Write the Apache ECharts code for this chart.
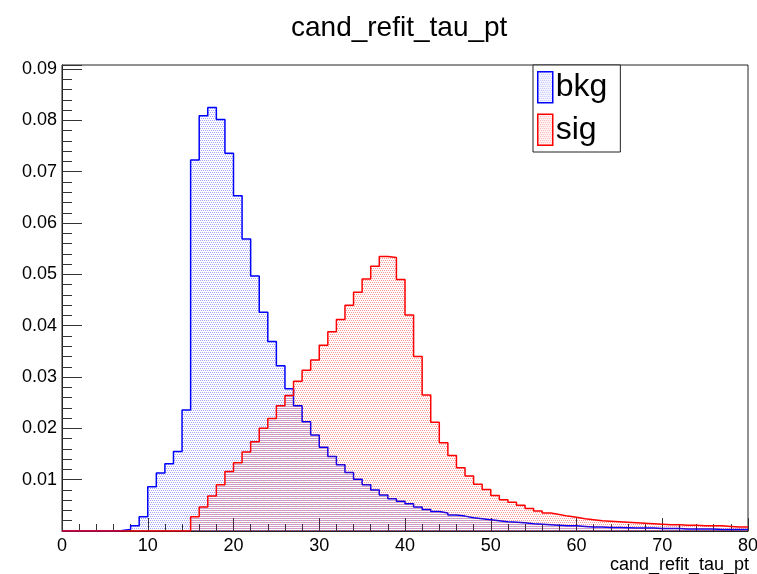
<!DOCTYPE html>
<html>
<head>
<meta charset="utf-8">
<script src="https://cdn.jsdelivr.net/npm/echarts@6/dist/echarts.min.js"></script>
<style>
  html, body { margin: 0; padding: 0; background: #fff; }
  #chart { width: 757px; height: 574px; }
</style>
</head>
<body>
<div id="chart"></div>
<script>
// Histogram of cand_refit_tau_pt, 80 bins of width 1 from 0 to 80 (normalised)
const binEdges = Array.from({ length: 81 }, (_, i) => i);

const bkg = [
  0, 0, 0, 0, 0, 0, 0.0001, 0.0003, 0.0010, 0.0028,
  0.0086, 0.0113, 0.0131, 0.0155, 0.0236, 0.0723, 0.0809, 0.0825, 0.0802, 0.0736,
  0.0653, 0.0569, 0.0497, 0.0426, 0.0369, 0.0322, 0.0277, 0.0244, 0.0213, 0.0187,
  0.0163, 0.0145, 0.0129, 0.0114, 0.0101, 0.0090, 0.0080, 0.0070, 0.0063, 0.0058,
  0.0053, 0.0047, 0.0042, 0.0038, 0.0035, 0.0031, 0.0029, 0.0026, 0.0024, 0.0022,
  0.0020, 0.0018, 0.0017, 0.0016, 0.0014, 0.0013, 0.0012, 0.0011, 0.0010, 0.0010,
  0.0009, 0.0008, 0.0008, 0.0007, 0.0007, 0.00065, 0.0006, 0.0006, 0.0006, 0.0005,
  0.0005, 0.0005, 0.0004, 0.0004, 0.0004, 0.0004, 0.0003, 0.0003, 0.0003, 0.0003
];

const sig = [
  0, 0, 0, 0, 0, 0, 0, 0, 0, 0,
  0, 0, 0, 0, 0, 0.0028, 0.0047, 0.0068, 0.0090, 0.0116,
  0.0133, 0.0154, 0.0174, 0.0200, 0.0219, 0.0244, 0.0264, 0.0292, 0.0313, 0.0333,
  0.0362, 0.0388, 0.0412, 0.0440, 0.0465, 0.0491, 0.0516, 0.0535, 0.0533, 0.0490,
  0.0421, 0.0340, 0.0265, 0.0212, 0.0172, 0.0147, 0.0123, 0.0107, 0.0091, 0.0081,
  0.0069, 0.0061, 0.0056, 0.0050, 0.0044, 0.0039, 0.0035, 0.0032, 0.0029, 0.0027,
  0.0024, 0.0022, 0.0020, 0.0019, 0.0018, 0.0017, 0.0016, 0.0015, 0.0014, 0.0013,
  0.0012, 0.0012, 0.0011, 0.0011, 0.0010, 0.0010, 0.0010, 0.0009, 0.0008, 0.0008
];

const seriesNames = ['bkg', 'sig'];
const titleText = 'cand_refit_tau_pt';
const xTitle = 'cand_refit_tau_pt';

// step outline: each bin value starts at its low edge, last value repeated at the upper edge
function histPoints(vals) {
  const pts = vals.map((v, i) => [binEdges[i], v]);
  pts.push([binEdges[vals.length], vals[vals.length - 1]]);
  return pts;
}

// sparse dotted fill, like a ROOT pattern fill
function dotPattern(rgba, dots) {
  const c = document.createElement('canvas');
  c.width = 4; c.height = 4;
  const g = c.getContext('2d');
  g.fillStyle = rgba;
  dots.forEach(([x, y]) => g.fillRect(x, y, 1, 1));
  return { image: c, repeat: 'repeat' };
}

const blue = '#0000ff';
const red = '#ff0000';
const bluePat = dotPattern('rgba(0,0,255,0.36)', [[0, 0], [2, 0], [1, 2], [3, 2]]);
const redPat = dotPattern('rgba(255,0,0,0.42)', [[1, 0], [3, 0], [0, 2], [2, 2]]);

const FONT = '"Liberation Sans", Arial, Helvetica, sans-serif';
const YMAX = 0.0908;

const chart = echarts.init(document.getElementById('chart'), null, { renderer: 'canvas' });

chart.setOption({
  animation: false,
  backgroundColor: '#ffffff',
  textStyle: { fontFamily: FONT },
  title: [
    {
      text: titleText,
      left: 286,
      top: 9,
      textStyle: { fontFamily: FONT, fontSize: 28, fontWeight: 'normal', color: '#000' }
    },
    {
      text: xTitle,
      right: 8,
      top: 556,
      padding: 0,
      textStyle: { fontFamily: FONT, fontSize: 18, fontWeight: 'normal', color: '#000' }
    }
  ],
  grid: {
    left: 62, right: 9, top: 65, bottom: 43,
    outerBoundsMode: 'none',
    containLabel: false,
    show: true, borderColor: '#222', borderWidth: 1, backgroundColor: 'transparent'
  },
  legend: {
    orient: 'vertical',
    left: 533,
    top: 65,
    icon: 'rect',
    itemWidth: 15,
    itemHeight: 31,
    itemGap: 10,
    padding: [6, 13, 6, 4],
    borderColor: '#222',
    borderWidth: 1,
    backgroundColor: '#fff',
    textStyle: { fontFamily: FONT, fontSize: 32, color: '#000', padding: [0, 0, 0, -2] },
    data: [
      { name: seriesNames[0], itemStyle: { color: bluePat, borderColor: blue, borderWidth: 1.5 } },
      { name: seriesNames[1], itemStyle: { color: redPat, borderColor: red, borderWidth: 1.5 } }
    ]
  },
  xAxis: {
    type: 'value',
    min: 0,
    max: 80,
    interval: 10,
    axisLine: { show: true, onZero: false, lineStyle: { color: '#222', width: 1 } },
    axisTick: { show: true, inside: true, length: 13, lineStyle: { color: '#333', width: 1 } },
    minorTick: { show: true, splitNumber: 5, length: 7, lineStyle: { color: '#333', width: 1 } },
    axisLabel: { fontFamily: FONT, fontSize: 18, color: '#000', margin: 6 },
    splitLine: { show: false }
  },
  yAxis: [
    {
      type: 'value',
      min: 0,
      max: YMAX,
      interval: 0.01,
      axisLine: { show: true, lineStyle: { color: '#222', width: 1 } },
      axisTick: { show: true, inside: true, length: 20, lineStyle: { color: '#333', width: 1 } },
      axisLabel: {
        fontFamily: FONT, fontSize: 18, color: '#000', margin: 5,
        formatter: function (v) {
          const k = Math.round(v * 100);
          if (k === 0 || Math.abs(v * 100 - k) > 1e-6) return '';
          return (k / 100).toFixed(2);
        }
      },
      splitLine: { show: false }
    },
    {
      // minor tick marks every 0.002
      type: 'value',
      position: 'left',
      min: 0,
      max: YMAX,
      interval: 0.002,
      axisLine: { show: false },
      axisTick: { show: true, inside: true, length: 10, lineStyle: { color: '#333', width: 1 } },
      axisLabel: { show: false },
      splitLine: { show: false }
    }
  ],
  series: [
    {
      name: seriesNames[0],
      type: 'line',
      step: 'end',
      data: histPoints(bkg),
      showSymbol: false,
      symbol: 'none',
      lineStyle: { color: blue, width: 1.5 },
      itemStyle: { color: blue },
      areaStyle: { color: bluePat, opacity: 1 },
      z: 2
    },
    {
      name: seriesNames[1],
      type: 'line',
      step: 'end',
      data: histPoints(sig),
      showSymbol: false,
      symbol: 'none',
      lineStyle: { color: red, width: 1.5 },
      itemStyle: { color: red },
      areaStyle: { color: redPat, opacity: 1 },
      z: 3
    }
  ]
});
</script>
</body>
</html>
